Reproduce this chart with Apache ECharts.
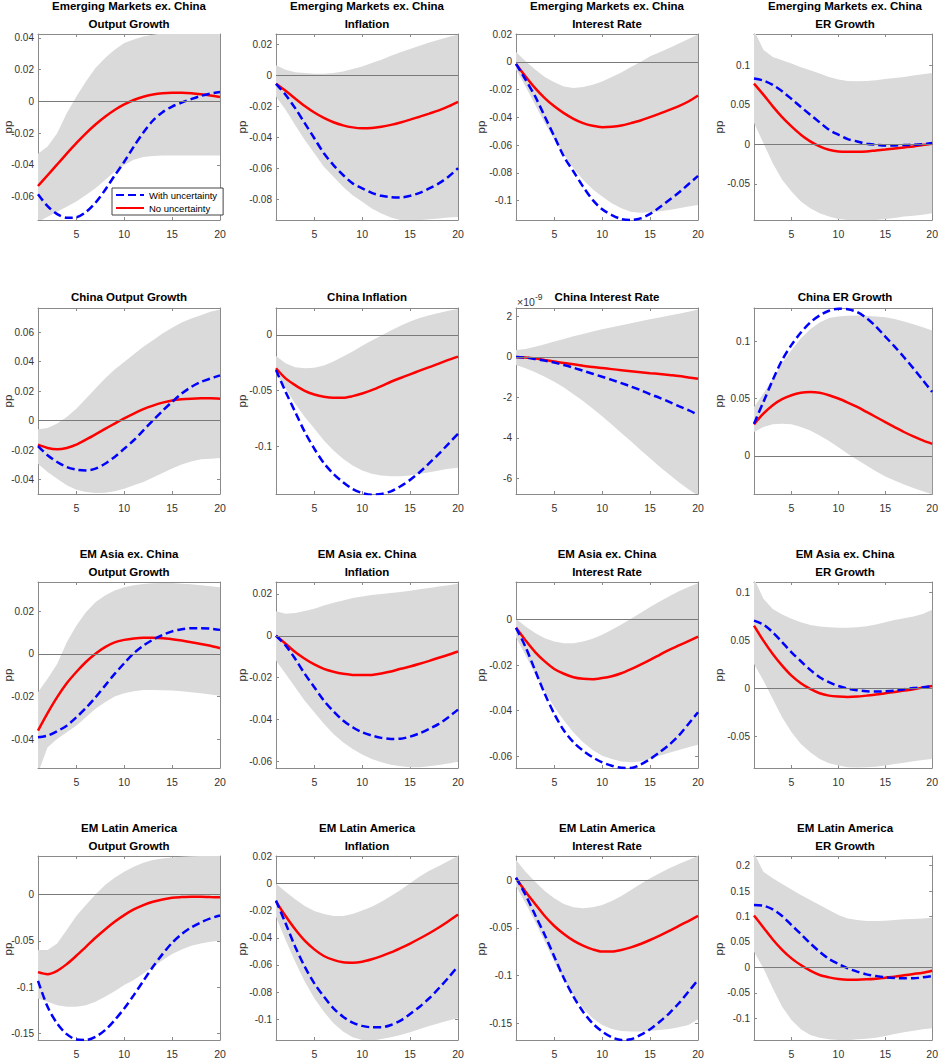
<!DOCTYPE html>
<html><head><meta charset="utf-8">
<script src="https://cdn.jsdelivr.net/npm/echarts/dist/echarts.min.js"></script>
<style>html,body{margin:0;padding:0;background:#fff}#c{width:941px;height:1059px}</style>
</head><body><div id="c"></div><script>
// horizon (quarters)
const horizon = [1,2,3,4,5,6,7,8,9,10,11,12,13,14,15,16,17,18,19,20];

// ---- Emerging Markets ex. China ----
const emOutLo = [-0.076,-0.0726,-0.0695,-0.0663,-0.063,-0.059,-0.0547,-0.0495,-0.0442,-0.04,-0.0368,-0.035,-0.0343,-0.034,-0.034,-0.034,-0.034,-0.034,-0.034,-0.034];
const emOutHi = [-0.033,-0.0284,-0.02,-0.0074,0.003,0.0126,0.021,0.0274,0.0326,0.0368,0.039,0.041,0.042,0.043,0.044,0.045,0.045,0.046,0.046,0.046];
const emOutNo = [-0.0533,-0.0465,-0.0397,-0.0329,-0.0263,-0.0201,-0.0145,-0.0096,-0.0054,-0.0019,0.0009,0.003,0.0044,0.0052,0.0055,0.0055,0.0052,0.0046,0.0038,0.0028];
const emOutWu = [-0.0585,-0.066,-0.071,-0.0733,-0.073,-0.0697,-0.0638,-0.0558,-0.0467,-0.038,-0.0284,-0.0196,-0.012,-0.0068,-0.0032,-0.0007,0.0015,0.0035,0.005,0.006];
const emOutTicks = [-0.06,-0.04,-0.02,0,0.02,0.04];

const emInfLo = [-0.0138,-0.0224,-0.0321,-0.0418,-0.0504,-0.059,-0.0655,-0.072,-0.0774,-0.0817,-0.086,-0.0892,-0.0918,-0.0935,-0.094,-0.0935,-0.0929,-0.0925,-0.0918,-0.0914];
const emInfHi = [0.0063,0.0034,0.0019,0.0013,0.0009,0.0009,0.0013,0.0024,0.0039,0.0056,0.0078,0.0099,0.0125,0.0147,0.0168,0.019,0.0211,0.0228,0.0246,0.026];
const emInfNo = [-0.0056,-0.0101,-0.0151,-0.0199,-0.0241,-0.0276,-0.0304,-0.0324,-0.0337,-0.0343,-0.0341,-0.0333,-0.0321,-0.0305,-0.0287,-0.0268,-0.0248,-0.0227,-0.0202,-0.0172];
const emInfWu = [-0.0056,-0.0127,-0.0213,-0.031,-0.0407,-0.0504,-0.058,-0.0644,-0.0698,-0.073,-0.0759,-0.0778,-0.0787,-0.0789,-0.0778,-0.0759,-0.073,-0.0698,-0.0655,-0.06];
const emInfTicks = [-0.08,-0.06,-0.04,-0.02,0,0.02];

const emIntLo = [-0.0055,-0.0176,-0.0308,-0.0441,-0.0561,-0.067,-0.0766,-0.085,-0.0918,-0.0971,-0.1019,-0.1055,-0.108,-0.1087,-0.1084,-0.1077,-0.1067,-0.1055,-0.1043,-0.1031];
const emIntHi = [0.0072,0.0005,-0.0055,-0.0108,-0.0147,-0.0176,-0.0188,-0.0181,-0.0164,-0.014,-0.0108,-0.0075,-0.0036,0,0.0041,0.007,0.0101,0.0133,0.0166,0.0198];
const emIntNo = [-0.0014,-0.0104,-0.0188,-0.026,-0.032,-0.0369,-0.041,-0.0441,-0.046,-0.047,-0.0467,-0.0458,-0.0441,-0.0422,-0.0398,-0.0373,-0.0346,-0.0318,-0.0285,-0.0242];
const emIntWu = [-0.0014,-0.0128,-0.0248,-0.0393,-0.0537,-0.0682,-0.079,-0.0899,-0.0995,-0.1063,-0.1104,-0.1133,-0.114,-0.1128,-0.1096,-0.1048,-0.0995,-0.0942,-0.0882,-0.0822];
const emIntTicks = [-0.1,-0.08,-0.06,-0.04,-0.02,0,0.02];

const emErLo = [0.0271,0.0017,-0.0237,-0.0449,-0.0597,-0.0725,-0.081,-0.0873,-0.0915,-0.0945,-0.0958,-0.0965,-0.0965,-0.0958,-0.0945,-0.0932,-0.0915,-0.0903,-0.089,-0.0873];
const emErHi = [0.145,0.12,0.111,0.1068,0.1025,0.0979,0.094,0.0898,0.0856,0.0822,0.0805,0.08,0.0805,0.0814,0.083,0.0843,0.0856,0.0873,0.089,0.0907];
const emErNo = [0.0771,0.0631,0.0483,0.0347,0.0229,0.0123,0.0038,-0.0025,-0.0068,-0.0089,-0.0093,-0.0093,-0.0089,-0.0076,-0.0064,-0.0051,-0.0038,-0.0025,-0.0008,0.0008];
const emErWu = [0.0835,0.081,0.0754,0.0674,0.0576,0.0475,0.0377,0.028,0.0186,0.0123,0.0068,0.0038,0.0008,-0.0004,-0.0013,-0.0013,-0.0008,-0.0004,0.0004,0.0017];
const emErTicks = [-0.05,0,0.05,0.1];

// ---- China ----
const cnOutLo = [-0.0292,-0.0348,-0.0393,-0.0438,-0.0468,-0.0484,-0.049,-0.0488,-0.0479,-0.0461,-0.0438,-0.0416,-0.0386,-0.0355,-0.0325,-0.0298,-0.0276,-0.0262,-0.0258,-0.0253];
const cnOutHi = [-0.0059,-0.005,-0.002,0.0025,0.0081,0.0149,0.0217,0.0285,0.0346,0.0398,0.045,0.05,0.0545,0.059,0.063,0.0664,0.0692,0.0714,0.0737,0.0753];
const cnOutNo = [-0.0163,-0.0185,-0.0194,-0.0185,-0.0163,-0.0129,-0.0093,-0.0056,-0.002,0.0015,0.0048,0.0078,0.0102,0.0122,0.0137,0.0145,0.0149,0.0151,0.0151,0.0149];
const cnOutWu = [-0.0172,-0.0235,-0.028,-0.0314,-0.0332,-0.0337,-0.0325,-0.0292,-0.0246,-0.019,-0.0133,-0.0066,0.0002,0.0066,0.0127,0.0183,0.0228,0.0262,0.0285,0.0307];
const cnOutTicks = [-0.04,-0.02,0,0.02,0.04,0.06];

const cnInfLo = [-0.0346,-0.0482,-0.0617,-0.0738,-0.0843,-0.0949,-0.1039,-0.1114,-0.1175,-0.122,-0.125,-0.1265,-0.1271,-0.1271,-0.1265,-0.125,-0.1235,-0.122,-0.1205,-0.1196];
const cnInfHi = [-0.019,-0.0256,-0.0292,-0.0301,-0.0295,-0.0277,-0.0241,-0.0196,-0.0151,-0.0099,-0.0051,-0.0006,0.0039,0.0081,0.012,0.0151,0.0175,0.0196,0.0217,0.0232];
const cnInfNo = [-0.0301,-0.0392,-0.0452,-0.0503,-0.0536,-0.0557,-0.0566,-0.0566,-0.0551,-0.0527,-0.0497,-0.0461,-0.0422,-0.0388,-0.0355,-0.0322,-0.029,-0.0259,-0.0226,-0.0196];
const cnInfWu = [-0.0316,-0.0512,-0.0693,-0.0873,-0.1024,-0.1154,-0.125,-0.1325,-0.1386,-0.1422,-0.1437,-0.143,-0.1407,-0.1361,-0.1304,-0.1235,-0.1154,-0.107,-0.098,-0.0889];
const cnInfTicks = [-0.1,-0.05,0];

// China interest rate, in units of 1e-9
const cnIntLo = [-0.4,-0.56,-0.76,-0.98,-1.23,-1.51,-1.84,-2.17,-2.55,-2.93,-3.33,-3.76,-4.16,-4.59,-5.0,-5.42,-5.81,-6.19,-6.53,-6.85];
const cnIntHi = [0.35,0.4,0.51,0.63,0.76,0.89,1.03,1.14,1.26,1.37,1.47,1.57,1.67,1.77,1.87,1.95,2.05,2.14,2.24,2.34];
const cnIntNo = [0,-0.03,-0.08,-0.15,-0.22,-0.3,-0.36,-0.43,-0.5,-0.55,-0.6,-0.65,-0.7,-0.75,-0.8,-0.84,-0.89,-0.94,-1.01,-1.08];
const cnIntWu = [0,-0.03,-0.1,-0.18,-0.28,-0.4,-0.53,-0.68,-0.83,-0.98,-1.13,-1.29,-1.46,-1.64,-1.84,-2.02,-2.22,-2.43,-2.63,-2.85];
const cnIntTicks = [-6,-4,-2,0,2];

const cnErLo = [0.0208,0.0251,0.0275,0.0281,0.0275,0.0251,0.0222,0.0178,0.0129,0.0076,0.0018,-0.0035,-0.0085,-0.0135,-0.0181,-0.0216,-0.0251,-0.0281,-0.031,-0.0335];
const cnErHi = [0.0427,0.0544,0.0675,0.0807,0.0924,0.1026,0.1105,0.1164,0.1202,0.1216,0.1222,0.1225,0.1222,0.1216,0.121,0.1193,0.1173,0.1149,0.1123,0.1094];
const cnErNo = [0.0275,0.0368,0.0442,0.0494,0.0529,0.055,0.0556,0.055,0.0529,0.05,0.0465,0.0427,0.0383,0.0339,0.0295,0.0251,0.0208,0.017,0.0135,0.0105];
const cnErWu = [0.0281,0.047,0.0661,0.0836,0.0968,0.1076,0.1164,0.1225,0.1266,0.1284,0.128,0.1254,0.1202,0.1129,0.1041,0.0953,0.086,0.0763,0.0661,0.0558];
const cnErTicks = [0,0.05,0.1];

// ---- EM Asia ex. China ----
const asOutLo = [-0.056,-0.0439,-0.04,-0.0368,-0.0337,-0.0298,-0.0258,-0.0227,-0.02,-0.0185,-0.0175,-0.0169,-0.0169,-0.0171,-0.0172,-0.0175,-0.018,-0.0185,-0.0191,-0.0196];
const asOutHi = [-0.018,-0.0117,-0.0047,0.0055,0.0133,0.0196,0.0243,0.0274,0.0298,0.0313,0.0323,0.0329,0.0332,0.0333,0.0333,0.033,0.0327,0.0323,0.0318,0.0313];
const asOutNo = [-0.036,-0.0278,-0.0203,-0.0138,-0.0085,-0.0038,0.0001,0.0032,0.0054,0.0066,0.0073,0.0076,0.0076,0.0074,0.0069,0.0063,0.0055,0.0047,0.0038,0.0027];
const asOutWu = [-0.0392,-0.0384,-0.0363,-0.0337,-0.0298,-0.0254,-0.0204,-0.0149,-0.0094,-0.0044,0.0003,0.0039,0.0067,0.0089,0.0106,0.0116,0.0121,0.0121,0.0119,0.0113];
const asOutTicks = [-0.04,-0.02,0,0.02];

const asInfLo = [-0.0118,-0.0182,-0.0246,-0.031,-0.0366,-0.0421,-0.0469,-0.0509,-0.0541,-0.0568,-0.0589,-0.0605,-0.0616,-0.0624,-0.0629,-0.0629,-0.0624,-0.0618,-0.061,-0.0602];
const asInfHi = [0.0117,0.0105,0.0109,0.0118,0.0129,0.0145,0.0158,0.0169,0.018,0.0188,0.0195,0.02,0.0204,0.0209,0.0215,0.0222,0.0228,0.0235,0.0241,0.0249];
const asInfNo = [0,-0.0038,-0.0078,-0.011,-0.0137,-0.0158,-0.0172,-0.0182,-0.0187,-0.0188,-0.0187,-0.018,-0.0171,-0.0158,-0.0147,-0.0134,-0.012,-0.0105,-0.0091,-0.0075];
const asInfWu = [0,-0.0046,-0.011,-0.0182,-0.0246,-0.031,-0.0361,-0.0405,-0.0437,-0.0461,-0.0477,-0.0488,-0.0493,-0.0492,-0.0482,-0.0466,-0.0445,-0.0421,-0.0389,-0.0353];
const asInfTicks = [-0.06,-0.04,-0.02,0,0.02];

const asIntLo = [-0.0078,-0.0158,-0.0238,-0.0315,-0.0385,-0.0443,-0.0495,-0.0538,-0.0572,-0.0597,-0.0612,-0.0622,-0.0626,-0.0623,-0.0612,-0.0597,-0.0584,-0.0572,-0.056,-0.0549];
const asIntHi = [0.0003,-0.0031,-0.006,-0.0082,-0.0097,-0.0104,-0.0104,-0.0097,-0.0085,-0.0067,-0.0045,-0.0022,0.0003,0.0028,0.0054,0.0079,0.0102,0.0124,0.0142,0.0159];
const asIntNo = [-0.0037,-0.0092,-0.0143,-0.0184,-0.0217,-0.0238,-0.0253,-0.026,-0.0262,-0.0257,-0.0249,-0.0236,-0.0218,-0.0198,-0.0177,-0.0155,-0.0133,-0.0114,-0.0095,-0.0075];
const asIntWu = [-0.0037,-0.0121,-0.0224,-0.0326,-0.0414,-0.0487,-0.0538,-0.0575,-0.0604,-0.0626,-0.0641,-0.065,-0.0651,-0.0636,-0.0612,-0.0582,-0.0549,-0.0509,-0.0458,-0.0407];
const asIntTicks = [-0.06,-0.04,-0.02,0];

const asErLo = [0.0254,0.008,-0.0112,-0.0303,-0.046,-0.0582,-0.0669,-0.0739,-0.0784,-0.0808,-0.0826,-0.0829,-0.0826,-0.0819,-0.0808,-0.0791,-0.0777,-0.0763,-0.0749,-0.0739];
const asErHi = [0.115,0.0934,0.0829,0.077,0.0725,0.069,0.0662,0.0645,0.0638,0.0631,0.0631,0.0638,0.0648,0.0666,0.069,0.0714,0.0732,0.0749,0.0775,0.082];
const asErNo = [0.0655,0.0498,0.0359,0.0237,0.0132,0.0052,-0.0007,-0.0052,-0.0077,-0.0087,-0.0091,-0.0087,-0.0077,-0.0066,-0.0052,-0.0038,-0.0024,-0.001,0.0007,0.0024];
const asErWu = [0.0707,0.0666,0.0585,0.0481,0.0376,0.0282,0.0192,0.0115,0.0063,0.0024,-0.0003,-0.0021,-0.0031,-0.0035,-0.0031,-0.0024,-0.001,0.0003,0.001,0.0021];
const asErTicks = [-0.05,0,0.05,0.1];

// ---- EM Latin America ----
const laOutLo = [-0.1122,-0.1158,-0.1194,-0.1212,-0.1212,-0.1194,-0.1158,-0.1104,-0.1043,-0.0978,-0.0924,-0.0853,-0.0781,-0.0709,-0.0644,-0.0594,-0.0554,-0.0529,-0.0511,-0.05];
const laOutHi = [-0.06,-0.06,-0.0529,-0.0385,-0.0234,-0.0115,0,0.0101,0.018,0.0245,0.0299,0.0342,0.0371,0.0388,0.0399,0.0406,0.041,0.0414,0.0418,0.042];
const laOutNo = [-0.0838,-0.086,-0.0824,-0.0752,-0.0662,-0.0565,-0.0468,-0.0378,-0.0295,-0.0223,-0.0162,-0.0115,-0.0079,-0.0054,-0.0036,-0.0029,-0.0025,-0.0025,-0.0029,-0.0032];
const laOutWu = [-0.0932,-0.1212,-0.1392,-0.1507,-0.1565,-0.157,-0.1536,-0.1464,-0.1356,-0.123,-0.1086,-0.0932,-0.0781,-0.0644,-0.0522,-0.0428,-0.0356,-0.0302,-0.0259,-0.0227];
const laOutTicks = [-0.15,-0.1,-0.05,0];

const laInfLo = [-0.0244,-0.0416,-0.0576,-0.0723,-0.0846,-0.0945,-0.1031,-0.1092,-0.1134,-0.1154,-0.116,-0.1146,-0.1134,-0.1117,-0.1097,-0.1073,-0.105,-0.1031,-0.1011,-0.0994];
const laInfHi = [0,-0.0059,-0.0116,-0.0165,-0.0202,-0.0224,-0.0239,-0.0239,-0.0224,-0.0199,-0.017,-0.0133,-0.0091,-0.0047,0.0002,0.0052,0.0096,0.013,0.0167,0.0204];
const laInfNo = [-0.0133,-0.0239,-0.0337,-0.0421,-0.0485,-0.0534,-0.0563,-0.058,-0.0583,-0.0576,-0.0558,-0.0535,-0.0508,-0.0476,-0.0442,-0.0405,-0.0366,-0.0324,-0.0278,-0.0228];
const laInfWu = [-0.0125,-0.0293,-0.0465,-0.0613,-0.0736,-0.0834,-0.092,-0.0982,-0.1026,-0.105,-0.106,-0.106,-0.1043,-0.1011,-0.0962,-0.0908,-0.0846,-0.0772,-0.0694,-0.0608];
const laInfTicks = [-0.1,-0.08,-0.06,-0.04,-0.02,0,0.02];

const laIntLo = [-0.0066,-0.0241,-0.0434,-0.0643,-0.0853,-0.1045,-0.1203,-0.1343,-0.1448,-0.1517,-0.1559,-0.158,-0.1587,-0.1587,-0.1577,-0.157,-0.1559,-0.1542,-0.1517,-0.1458];
const laIntHi = [0.0213,0.0091,-0.0014,-0.0112,-0.0189,-0.0248,-0.0283,-0.0294,-0.0283,-0.0259,-0.0217,-0.0164,-0.0101,-0.0038,0.0021,0.0073,0.0126,0.0171,0.0213,0.0255];
const laIntNo = [0.0021,-0.0119,-0.0248,-0.0374,-0.0479,-0.0563,-0.0633,-0.0685,-0.0724,-0.0748,-0.0748,-0.0731,-0.0703,-0.0668,-0.0626,-0.058,-0.0531,-0.0478,-0.0427,-0.0374];
const laIntWu = [0.0028,-0.0154,-0.0364,-0.0573,-0.0801,-0.1028,-0.122,-0.1378,-0.15,-0.1587,-0.1647,-0.1675,-0.1668,-0.1622,-0.1563,-0.1483,-0.1395,-0.129,-0.1168,-0.1045];
const laIntTicks = [-0.15,-0.1,-0.05,0];

const laErLo = [0.0308,-0.002,-0.0413,-0.0773,-0.1035,-0.1219,-0.133,-0.1383,-0.1415,-0.1429,-0.1435,-0.1415,-0.1402,-0.1383,-0.135,-0.1311,-0.1278,-0.1245,-0.1219,-0.1199];
const laErHi = [0.225,0.188,0.175,0.1638,0.1533,0.1422,0.1324,0.1225,0.1127,0.1029,0.0963,0.0931,0.0911,0.0911,0.0917,0.0931,0.0944,0.095,0.0963,0.0976];
const laErNo = [0.102,0.0785,0.0547,0.0345,0.0177,0.0046,-0.0066,-0.0151,-0.0197,-0.0229,-0.0242,-0.0242,-0.0236,-0.0223,-0.0203,-0.0183,-0.0157,-0.0131,-0.0105,-0.0066];
const laErWu = [0.1225,0.1212,0.114,0.1009,0.0832,0.0655,0.0472,0.0308,0.0164,0.0066,-0.002,-0.0085,-0.0138,-0.017,-0.0197,-0.021,-0.0216,-0.0216,-0.0197,-0.017];
const laErTicks = [-0.1,-0.05,0,0.05,0.1,0.15,0.2];

const xTicks = [5,10,15,20];
const legendNames = ['With uncertainty','No uncertainty'];

const titles = [
  ['Emerging Markets ex. China','Output Growth'],['Emerging Markets ex. China','Inflation'],['Emerging Markets ex. China','Interest Rate'],['Emerging Markets ex. China','ER Growth'],
  ['China Output Growth'],['China Inflation'],['China Interest Rate'],['China ER Growth'],
  ['EM Asia ex. China','Output Growth'],['EM Asia ex. China','Inflation'],['EM Asia ex. China','Interest Rate'],['EM Asia ex. China','ER Growth'],
  ['EM Latin America','Output Growth'],['EM Latin America','Inflation'],['EM Latin America','Interest Rate'],['EM Latin America','ER Growth']
];

const panels = [
  {lo:emOutLo,hi:emOutHi,no:emOutNo,wu:emOutWu,ticks:emOutTicks,min:-0.0747,max:0.0425},
  {lo:emInfLo,hi:emInfHi,no:emInfNo,wu:emInfWu,ticks:emInfTicks,min:-0.0934,max:0.0265},
  {lo:emIntLo,hi:emIntHi,no:emIntNo,wu:emIntWu,ticks:emIntTicks,min:-0.114,max:0.0202},
  {lo:emErLo,hi:emErHi,no:emErNo,wu:emErWu,ticks:emErTicks,min:-0.0958,max:0.140},
  {lo:cnOutLo,hi:cnOutHi,no:cnOutNo,wu:cnOutWu,ticks:cnOutTicks,min:-0.0497,max:0.0763},
  {lo:cnInfLo,hi:cnInfHi,no:cnInfNo,wu:cnInfWu,ticks:cnInfTicks,min:-0.1431,max:0.0241},
  {lo:cnIntLo,hi:cnIntHi,no:cnIntNo,wu:cnIntWu,ticks:cnIntTicks,min:-6.77,max:2.42,noPP:true},
  {lo:cnErLo,hi:cnErHi,no:cnErNo,wu:cnErWu,ticks:cnErTicks,min:-0.0333,max:0.129},
  {lo:asOutLo,hi:asOutHi,no:asOutNo,wu:asOutWu,ticks:asOutTicks,min:-0.0536,max:0.0338},
  {lo:asInfLo,hi:asInfHi,no:asInfNo,wu:asInfWu,ticks:asInfTicks,min:-0.0632,max:0.0257},
  {lo:asIntLo,hi:asIntHi,no:asIntNo,wu:asIntWu,ticks:asIntTicks,min:-0.0651,max:0.0164},
  {lo:asErLo,hi:asErHi,no:asErNo,wu:asErWu,ticks:asErTicks,min:-0.0833,max:0.111},
  {lo:laOutLo,hi:laOutHi,no:laOutNo,wu:laOutWu,ticks:laOutTicks,min:-0.157,max:0.0414},
  {lo:laInfLo,hi:laInfHi,no:laInfNo,wu:laInfWu,ticks:laInfTicks,min:-0.1154,max:0.0204},
  {lo:laIntLo,hi:laIntHi,no:laIntNo,wu:laIntWu,ticks:laIntTicks,min:-0.1675,max:0.0255},
  {lo:laErLo,hi:laErHi,no:laErNo,wu:laErWu,ticks:laErTicks,min:-0.1429,max:0.219}
];

// ---- layout ----
const colLeft = [38, 276, 516, 754];
const rowTop = [34, 308, 582, 856];
const ppX = [8, 242, 481, 719];
const W = 182, H = 186;
const FONT = "'Liberation Sans',Arial,sans-serif";
const AX = '#8a8a8a', LBL = '#333333';

const fmt = v => String(+v.toFixed(6));
const pairs = arr => arr.map((v, k) => [horizon[k], v]);

const grid = [], xAxis = [], yAxis = [], series = [], graphic = [];

panels.forEach((p, i) => {
  const r = Math.floor(i / 4), c = i % 4;
  const L = colLeft[c], T = rowTop[r];
  grid.push({left: L, top: T, width: W, height: H});
  const tick = vals => ({show: true, inside: true, length: 3, customValues: vals, lineStyle: {color: AX, width: 1}});
  xAxis.push({gridIndex: i, type: 'value', min: 1, max: 20, position: 'bottom',
    axisLine: {show: true, onZero: false, lineStyle: {color: AX, width: 1}},
    axisTick: tick(xTicks), splitLine: {show: false},
    axisLabel: {customValues: xTicks, color: LBL, fontSize: 10.5, fontFamily: FONT, margin: 8}});
  xAxis.push({gridIndex: i, type: 'value', min: 1, max: 20, position: 'top',
    axisLine: {show: true, onZero: false, lineStyle: {color: AX, width: 1}},
    axisTick: tick(xTicks), splitLine: {show: false}, axisLabel: {show: false}});
  yAxis.push({gridIndex: i, type: 'value', min: p.min, max: p.max, position: 'left',
    axisLine: {show: true, onZero: false, lineStyle: {color: AX, width: 1}},
    axisTick: tick(p.ticks), splitLine: {show: false},
    axisLabel: {customValues: p.ticks, color: LBL, fontSize: 10, fontFamily: FONT, margin: 4, formatter: fmt}});
  yAxis.push({gridIndex: i, type: 'value', min: p.min, max: p.max, position: 'right',
    axisLine: {show: true, onZero: false, lineStyle: {color: AX, width: 1}},
    axisTick: tick(p.ticks), splitLine: {show: false}, axisLabel: {show: false}});

  const xi = 2 * i, yi = 2 * i;
  // confidence band as a polygon through the axes' scales
  series.push({type: 'custom', xAxisIndex: xi, yAxisIndex: yi, clip: true, silent: true, z: 1,
    data: horizon.map((x, k) => [x, p.lo[k], p.hi[k]]),
    encode: {x: 0, y: [1, 2]},
    renderItem: (params, api) => {
      if (params.dataIndex !== 0) return null;
      const top = horizon.map((x, k) => api.coord([x, p.hi[k]]));
      const bot = horizon.map((x, k) => api.coord([x, p.lo[k]])).reverse();
      return {type: 'polygon', shape: {points: top.concat(bot)}, style: {fill: '#dadada', stroke: null}};
    },
    markLine: {silent: true, symbol: ['none', 'none'], label: {show: false}, animation: false,
      lineStyle: {color: '#7a7a7a', width: 1, type: 'solid'}, data: [{yAxis: 0}]}});
  series.push({type: 'line', name: legendNames[1], xAxisIndex: xi, yAxisIndex: yi, data: pairs(p.no), smooth: 0.3,
    symbol: 'none', lineStyle: {color: '#ff0000', width: 2.5}, itemStyle: {color: '#ff0000'}, z: 3});
  series.push({type: 'line', name: legendNames[0], xAxisIndex: xi, yAxisIndex: yi, data: pairs(p.wu), smooth: 0.3,
    symbol: 'none', lineStyle: {color: '#0000ff', width: 2.5, type: [8, 4]}, itemStyle: {color: '#0000ff'}, z: 4});

  // titles
  const t = titles[i];
  const cx = L + W / 2;
  const tf = 'bold 11.5px ' + FONT;
  if (t.length === 2) {
    graphic.push({type: 'text', x: cx, y: T - 28, style: {text: t[0], fill: '#000', font: tf, textAlign: 'center', textVerticalAlign: 'middle'}});
    graphic.push({type: 'text', x: cx, y: T - 10, style: {text: t[1], fill: '#000', font: tf, textAlign: 'center', textVerticalAlign: 'middle'}});
  } else {
    graphic.push({type: 'text', x: cx, y: T - 11, style: {text: t[0], fill: '#000', font: tf, textAlign: 'center', textVerticalAlign: 'middle'}});
  }
  if (!p.noPP) {
    graphic.push({type: 'text', x: ppX[c], y: T + H / 2, rotation: Math.PI / 2,
      style: {text: 'pp', fill: LBL, font: '11.5px ' + FONT, textAlign: 'center', textVerticalAlign: 'middle'}});
  }
});

// exponent for China Interest Rate
graphic.push({type: 'text', x: colLeft[2] + 1, y: rowTop[1] - 6, style: {text: '×10', fill: LBL, font: '10.5px ' + FONT, textAlign: 'left', textVerticalAlign: 'middle'}});
graphic.push({type: 'text', x: colLeft[2] + 19, y: rowTop[1] - 11, style: {text: '-9', fill: LBL, font: '8.5px ' + FONT, textAlign: 'left', textVerticalAlign: 'middle'}});

const chart = echarts.init(document.getElementById('c'), null, {renderer: 'svg'});
chart.setOption({
  animation: false,
  backgroundColor: '#ffffff',
  grid, xAxis, yAxis, series, graphic,
  legend: {data: legendNames, orient: 'vertical', left: 112, top: 188, itemWidth: 28, itemHeight: 10, itemGap: 3,
    padding: [2, 6, 2, 3], borderColor: '#444', borderWidth: 1, backgroundColor: '#fff', borderRadius: 0,
    itemStyle: {color: 'rgba(0,0,0,0)', borderWidth: 0},
    textStyle: {fontSize: 9.5, fontFamily: FONT, color: '#000'}, selectedMode: false, z: 10}
});
</script></body></html>
